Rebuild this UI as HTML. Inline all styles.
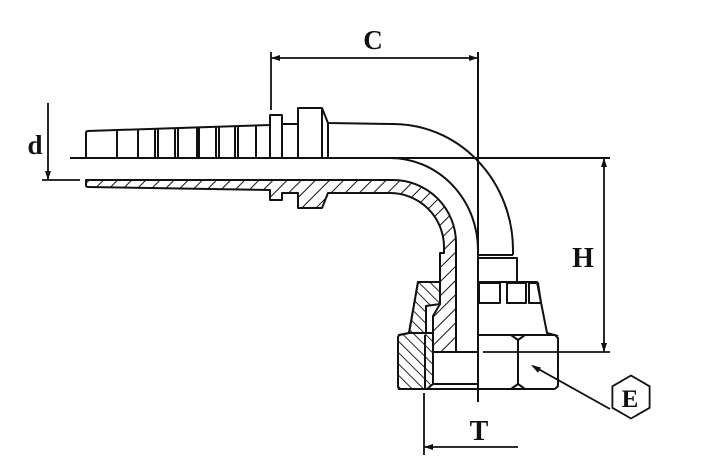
<!DOCTYPE html>
<html><head><meta charset="utf-8"><style>
html,body{margin:0;padding:0;background:#fff;}
svg{display:block;}
text{font-family:"Liberation Serif",serif;font-weight:bold;fill:#111;}
</style></head><body>
<svg width="728" height="475" viewBox="0 0 728 475" xmlns="http://www.w3.org/2000/svg">
<defs>
<pattern id="hf" patternUnits="userSpaceOnUse" width="10" height="10" patternTransform="rotate(45)">
<line x1="0" y1="0" x2="0" y2="10" stroke="#111" stroke-width="2"/></pattern>
<pattern id="hb" patternUnits="userSpaceOnUse" width="8" height="8" patternTransform="rotate(-45)">
<line x1="0" y1="0" x2="0" y2="8" stroke="#111" stroke-width="1.8"/></pattern>
</defs>
<g fill="none" stroke="#111" stroke-width="2" stroke-linejoin="round">
<!-- centerlines -->
<line x1="70" y1="158" x2="610" y2="158"/>
<line x1="478" y1="52" x2="478" y2="402"/>
<!-- top outline -->
<path d="M86,158 L86,133 Q86,131 88,131 L270,125 L270,115 L282,115 L282,124 L298,124 L298,108 L322,108 L328,123 L393,124 A120,126 0 0 1 513,250 L513,255"/>
<line x1="270" y1="115" x2="270" y2="158"/>
<line x1="282" y1="115" x2="282" y2="158"/>
<line x1="298" y1="108" x2="298" y2="158"/>
<line x1="322" y1="108" x2="322" y2="158"/>
<line x1="328" y1="123" x2="328" y2="158"/>
<!-- ribs -->
<line x1="117" y1="130" x2="117" y2="158"/>
<line x1="138" y1="129.3" x2="138" y2="158"/>
<line x1="155" y1="128.7" x2="155" y2="158"/>
<line x1="158" y1="128.6" x2="158" y2="158"/>
<line x1="175" y1="128.1" x2="175" y2="158"/>
<line x1="178" y1="128" x2="178" y2="158"/>
<line x1="197" y1="127.4" x2="197" y2="158"/>
<line x1="199" y1="127.3" x2="199" y2="158"/>
<line x1="216" y1="126.7" x2="216" y2="158"/>
<line x1="219" y1="126.6" x2="219" y2="158"/>
<line x1="235" y1="126.1" x2="235" y2="158"/>
<line x1="238" y1="126" x2="238" y2="158"/>
<line x1="256" y1="125.4" x2="256" y2="158"/>
<!-- inner curve -->
<path d="M390,158 A88,92 0 0 1 478,250"/>
<!-- section body -->
<path fill="url(#hf)" d="M86,180 L393,180 A63,63 0 0 1 456,243 L456,352 L433,352 L433,316 L440,304 L440,253 L444,253 L444,247 A54,54 0 0 0 390,193 L328,193 L322,208 L298,208 L298,193 L282,193 L282,200 L270,200 L270,190 L88,187 Q86,187 86,185 Z"/>
<!-- small rect under bend -->
<line x1="478" y1="255" x2="513" y2="255"/>
<rect x="478" y="258" width="39" height="24"/>
<!-- nut upper outline -->
<path d="M478,282 L537,282 L547,333 L558,336"/>
<path d="M440,282 L418,282 L409,333 L399,335"/>
<rect x="479" y="283" width="21" height="20"/>
<rect x="507" y="283" width="19" height="20"/>
<path d="M529,283 L538,283 L541,303 L529,303 Z"/>
<!-- nut section hatched -->
<path fill="url(#hb)" d="M418,282 L440,282 L440,304 L426,306 L426,333 L409,333 Z"/>
<path fill="url(#hb)" d="M399,335 L409,333 L433,333 L433,384 L427,389 L401,389 Q398,389 398,386 L398,337 Z"/>
<line x1="425" y1="335" x2="425" y2="389"/>
<!-- seat lines -->
<line x1="433" y1="352" x2="478" y2="352"/>
<line x1="433" y1="384" x2="478" y2="384"/>
<line x1="398" y1="389" x2="555" y2="389"/>
<!-- hex right part -->
<path d="M478,335 L555,335 L558,338 L558,386 L555,389"/>
<line x1="518" y1="339" x2="518" y2="385"/>
<path d="M511,335 L518,340 L525,335"/>
<path d="M511,389 L518,384 L525,389"/>
</g>
<!-- dimensions -->
<g fill="none" stroke="#111" stroke-width="1.8">
<!-- C -->
<line x1="271" y1="52" x2="271" y2="110"/>
<line x1="271" y1="58" x2="478" y2="58"/>
<!-- H -->
<line x1="478" y1="158" x2="610" y2="158"/>
<line x1="483" y1="352" x2="610" y2="352"/>
<line x1="604" y1="158" x2="604" y2="352"/>
<!-- T -->
<line x1="424" y1="393" x2="424" y2="455"/>
<line x1="424" y1="447" x2="518" y2="447"/>
<!-- d -->
<line x1="48" y1="103" x2="48" y2="180"/>
<line x1="42" y1="180" x2="80" y2="180"/>
<!-- E leader -->
<line x1="610" y1="409" x2="533" y2="366"/>
<polygon points="631,375.5 649.6,386.3 649.6,407.8 631,418.5 612.4,407.8 612.4,386.3"/>
</g>
<g fill="#111" stroke="none">
<polygon points="271,58 280,55 280,61"/>
<polygon points="478,58 469,55 469,61"/>
<polygon points="604,158 601,167 607,167"/>
<polygon points="604,352 601,343 607,343"/>
<polygon points="424,447 433,444 433,450"/>
<polygon points="48,180 45,171 51,171"/>
<polygon points="531,365 541,367.5 538,372.7"/>
</g>
<text x="373" y="49" font-size="27" text-anchor="middle">C</text>
<text x="35" y="154" font-size="27" text-anchor="middle">d</text>
<text x="583" y="267" font-size="28" text-anchor="middle">H</text>
<text x="479" y="440" font-size="28" text-anchor="middle">T</text>
<text x="630" y="407" font-size="25" text-anchor="middle">E</text>
</svg>
</body></html>
